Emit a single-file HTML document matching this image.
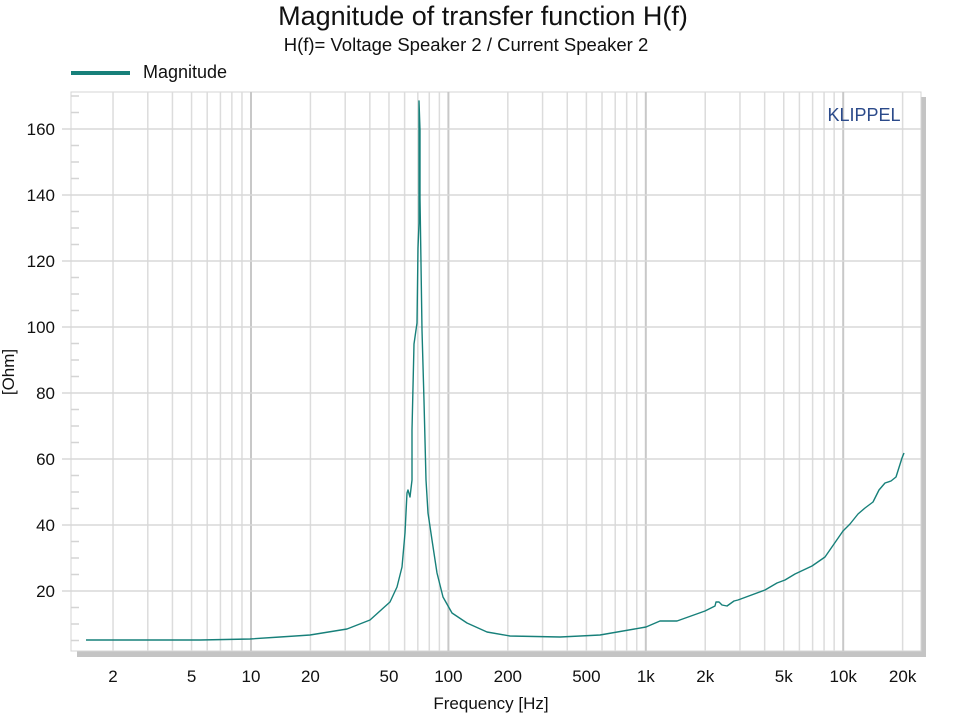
<!DOCTYPE html>
<html><head><meta charset="utf-8"><style>
body{margin:0;background:#fff;}
svg{display:block;font-family:"Liberation Sans",Arial,sans-serif;}
</style></head><body>
<svg id="s" width="960" height="720" xmlns="http://www.w3.org/2000/svg">
<rect width="960" height="720" fill="#fff"/>
<text x="483" y="25" font-size="27" text-anchor="middle" fill="#111">Magnitude of transfer function H(f)</text>
<text x="466" y="51" font-size="18.5" text-anchor="middle" fill="#111">H(f)= Voltage Speaker 2 / Current Speaker 2</text>
<rect x="71" y="71" width="59" height="4" fill="#17807a"/>
<text x="143" y="78" font-size="18" fill="#111">Magnitude</text>
<rect x="77" y="651" width="849" height="6" fill="#c4c4c4"/>
<rect x="921" y="97" width="5" height="560" fill="#c4c4c4"/>
<rect x="71" y="92" width="850" height="559" fill="#fff" stroke="#d4d4d4"/>
<g id="grid"></g>
<text x="864" y="121" font-size="18" text-anchor="middle" fill="#2b4a8a">KLIPPEL</text>
<path id="curve" fill="none" stroke="#17807a" stroke-width="1.4" stroke-linejoin="round"/>
<text x="491" y="709" font-size="17" text-anchor="middle" fill="#111">Frequency [Hz]</text>
<text transform="translate(14,372) rotate(-90)" font-size="17" text-anchor="middle" fill="#111">[Ohm]</text>
</svg>
<script>
var g=document.getElementById('grid'),h='';
function X(f){return 251+197.4*(Math.log10(f)-1);}
function Y(v){return 591-(v-20)*3.3;}
for(var d=1;d<=10000;d*=10)for(var m=1;m<10;m++){var f=d*m,x=X(f);if(x<72||x>920)continue;
h+='<line x1="'+x+'" y1="92" x2="'+x+'" y2="651" stroke="'+(m==1?'#c8c8c8':'#dcdcdc')+'" stroke-width="'+(m==1?2:1.5)+'"/>';}
for(var v=5;v<=170;v+=5){var y=Y(v);if(v%20==0){h+='<line x1="62" y1="'+y+'" x2="921" y2="'+y+'" stroke="#d8d8d8" stroke-width="1.5"/>';
h+='<text x="55" y="'+(y+6)+'" font-size="17" text-anchor="end" fill="#111">'+v+'</text>';}
else h+='<line x1="71" y1="'+y+'" x2="79" y2="'+y+'" stroke="#d4d4d4" stroke-width="1.5"/>';}
var labs=[[2,'2'],[5,'5'],[10,'10'],[20,'20'],[50,'50'],[100,'100'],[200,'200'],[500,'500'],[1000,'1k'],[2000,'2k'],[5000,'5k'],[10000,'10k'],[20000,'20k']];
labs.forEach(function(l){h+='<text x="'+X(l[0])+'" y="682" font-size="17" text-anchor="middle" fill="#111">'+l[1]+'</text>';});
g.innerHTML=h;
var p=[[86,640],[200,640],[250,639],[280,637],[310,635],[347,629],[370,620],[390,602],[397,587],[402,567],[405,533],[406,513],[407,493],[408,490],[410,497],[412,480],[412,430],[414,344],[417,323],[418,248],[419,223],[419,101],[420,130],[420,198],[422,330],[424,401],[426,480],[428,513],[432,540],[437,573],[443,597],[452,613],[467,623],[487,632],[510,636],[560,637],[600,635],[646,627],[660,621],[677,621],[705,611],[715,606],[716,602],[719,602],[722,605],[727,606],[734,601],[738,600],[765,590],[777,583],[785,580],[795,574],[812,566],[825,557],[843,531],[850,524],[858,514],[865,508],[873,502],[879,490],[885,483],[891,481],[896,477],[902,458],[904,453]];
document.getElementById('curve').setAttribute('d','M'+p.map(function(q){return q[0]+','+q[1];}).join(' L'));
</script>
</body></html>
